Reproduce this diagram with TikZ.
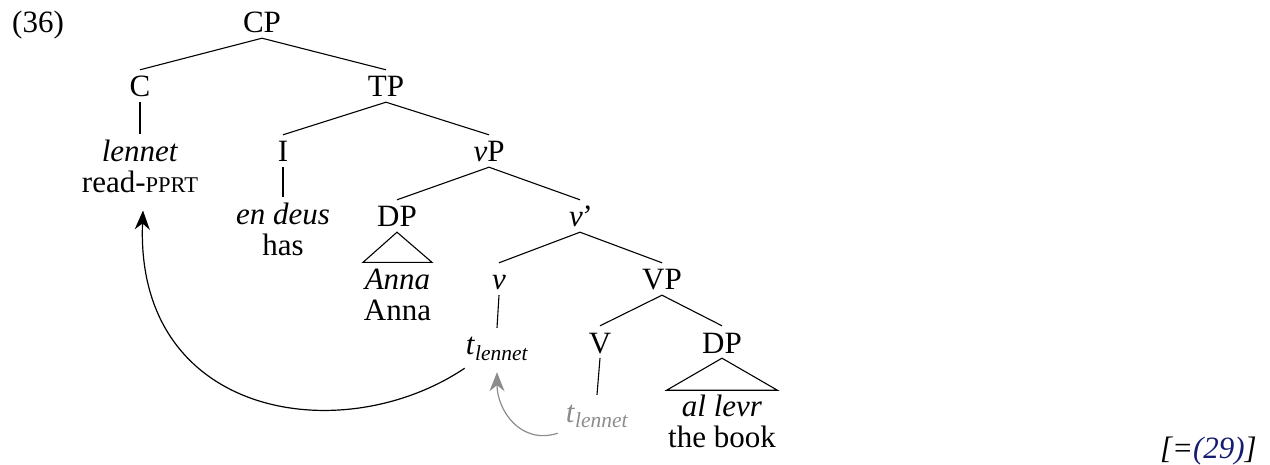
\documentclass[tikz,border=0pt]{standalone}
\usepackage{fontspec}
\setmainfont{Liberation Serif}
\usetikzlibrary{arrows.meta}
\definecolor{refblue}{RGB}{22,28,112}
\definecolor{tracegray}{RGB}{140,140,140}
\newcommand{\bigf}{\fontsize{31}{31}\selectfont}
\newcommand{\scf}[1]{{\fontsize{22.5}{22.5}\selectfont #1}}
\newcommand{\trace}{\textit{t}\raisebox{-5.5pt}{\fontsize{21.5}{21.5}\selectfont\textit{lennet}}}
\begin{document}
\begin{tikzpicture}[x=1pt,y=-1pt,
  lab/.style={anchor=base, font=\bigf, inner xsep=0pt, inner ysep=5pt, text height=22pt, text depth=0pt},
  leaf/.style={anchor=base, font=\bigf, align=center, inner xsep=0pt, inner ysep=6pt},
  branch/.style={line width=1.1pt},
  mv/.style={line width=1.2pt, -{Stealth[length=19pt,width=15pt,inset=6pt]}}]
\useasboundingbox (0,0) rectangle (1270,465);
% labels
\node[anchor=base west, font=\bigf, inner sep=0pt] (ex) at (12,33) {(36)};
\node[lab] (cp) at (262,33) {CP};
\node[lab] (c) at (140,97) {C};
\node[lab] (tp) at (386,97) {TP};
\node[leaf] (len) at (140,193) {\textit{lennet}\\read-\scf{PPRT}};
\node[lab] (i) at (283,162) {I};
\node[lab] (vp) at (489,162) {\textit{v}P};
\node[leaf] (deus) at (283,256) {\textit{en deus}\\has};
\node[lab] (dpa) at (397,227) {DP};
\node[lab] (vbar) at (580,227) {\textit{v\kern-2.5pt'}};
\node[leaf] (anna) at (397.5,320) {\textit{Anna}\\Anna};
\node[lab] (v) at (499,290) {\textit{v}};
\node[lab] (vpp) at (662,290) {VP};
\node[lab] (tl) at (497,355) {\trace};
\node[lab] (vv) at (600,353) {V};
\node[lab] (dpb) at (722,353) {DP};
\node[lab, text=tracegray] (gt) at (597,422) {\trace};
\node[leaf] (book) at (722,447) {\textit{al levr}\\the book};
\node[anchor=base east, font=\bigf, inner sep=0pt] (ref) at (1257,458) {\textit{[=\textcolor{refblue}{(29)}]}};
% branches
\draw[branch] (cp.south) -- (c.north);
\draw[branch] (cp.south) -- (tp.north);
\draw[branch] (c.south) -- (len.north);
\draw[branch] (tp.south) -- (i.north);
\draw[branch] (tp.south) -- (vp.north);
\draw[branch] (i.south) -- (deus.north);
\draw[branch] (vp.south) -- (dpa.north);
\draw[branch] (vp.south) -- (vbar.north);
\draw[branch] (dpa.south) -- ([xshift=-34.5pt]anna.north) -- ([xshift=34.5pt]anna.north) -- cycle;
\draw[branch] (vbar.south) -- (v.north);
\draw[branch] (vbar.south) -- (vpp.north);
\draw[branch] (v.south) -- (tl.north);
\draw[branch] (vpp.south) -- (vv.north);
\draw[branch] (vpp.south) -- (dpb.north);
\draw[branch] (vv.south) -- (gt.north);
\draw[branch] (dpb.south) -- ([xshift=-55.5pt,yshift=-2pt]book.north) -- ([xshift=55.5pt,yshift=-2pt]book.north) -- cycle;
% movement arrows
\draw[mv] ([xshift=-1pt,yshift=-8pt]tl.south west) .. controls +(-122,82) and +(-8,208) .. ([xshift=3pt,yshift=-11pt]len.south);
\draw[mv, color=tracegray] ([xshift=-8pt,yshift=-6pt]gt.south west) .. controls +(-37,12) and +(0,38) .. ([yshift=-12pt]tl.south);
\end{tikzpicture}
\end{document}
